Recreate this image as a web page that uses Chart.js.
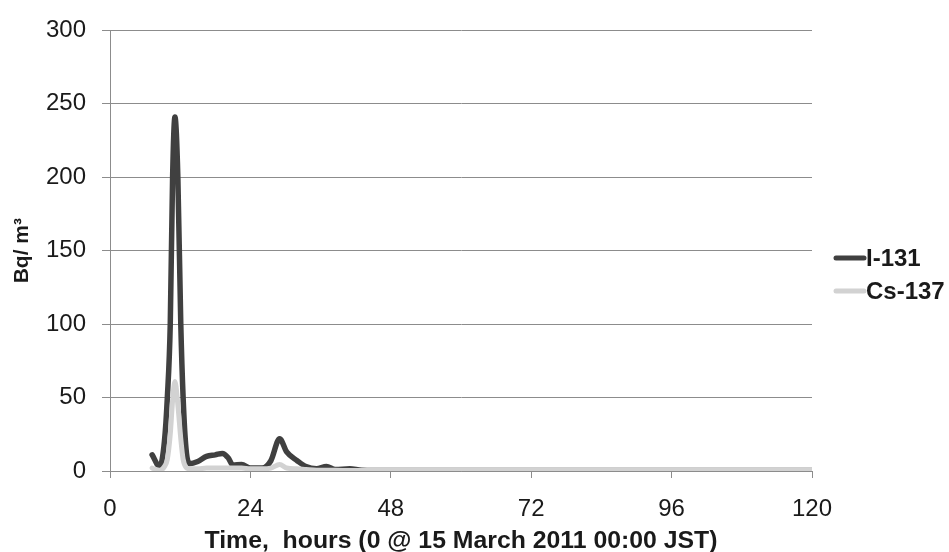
<!DOCTYPE html>
<html>
<head>
<meta charset="utf-8">
<script src="https://cdn.jsdelivr.net/npm/chart.js@4"></script>
<style>
	html, body { margin: 0; padding: 0; background: #fff; }
	#wrap { width: 949px; height: 552px; position: relative; }
</style>
</head>
<body>
<div id="wrap"><canvas id="myChart"></canvas></div>
<script>
// hours after 15 March 2011 00:00 JST
const hours = [7.2, 8.5, 9.3, 9.8, 10.3, 10.7, 11.1, 11.6, 12.1, 12.5, 13.0, 13.6, 15, 16.5, 18, 19.2, 20.2, 21, 22.5, 24, 26, 27.5, 29, 30.2, 32, 33.5, 35.3, 37, 38.5, 41, 43, 48, 72, 96, 120];
const i131 = [11, 3, 20, 50, 100, 200, 241, 200, 100, 50, 15, 5, 6.5, 10, 11, 12, 9, 4, 4.5, 2, 2, 7, 22, 13, 7, 3, 1.5, 3, 1, 1.5, 0.5, 0.3, 0.3, 0.3, 0.3];
const cs137 = [2, 0.5, 3, 8, 25, 48, 61, 45, 22, 8, 2.5, 1.5, 1.5, 2, 2, 2, 2, 2, 2, 1.5, 1.5, 2, 4.5, 2, 1.5, 1, 0.5, 0.5, 0.5, 0.3, 0.3, 0.3, 0.3, 0.3, 0.3];
const seriesNames = ['I-131', 'Cs-137'];
const xTicks = [0, 24, 48, 72, 96, 120];
const yTicks = [0, 50, 100, 150, 200, 250, 300];

const fontFamily = '"Liberation Sans", Arial, sans-serif';
const gridColor = '#8c8c8c';
const textColor = '#1a1a1a';

const toPoints = (vals) => vals.map((v, i) => ({ x: hours[i], y: v }));

// legend on the right, drawn by hand so it sits where the original one does
const sideLegend = {
	id: 'sideLegend',
	afterDraw(chart) {
		const ctx = chart.ctx;
		const rows = [258, 291];
		ctx.save();
		chart.data.datasets.forEach((ds, i) => {
			const y = rows[i];
			ctx.strokeStyle = ds.borderColor;
			ctx.lineWidth = 5;
			ctx.lineCap = 'round';
			ctx.beginPath();
			ctx.moveTo(836, y);
			ctx.lineTo(864, y);
			ctx.stroke();
			ctx.fillStyle = textColor;
			ctx.font = 'bold 24px ' + fontFamily;
			ctx.textBaseline = 'middle';
			ctx.fillText(ds.label, 866, y + 1);
		});
		ctx.restore();
	}
};

const ctx = document.getElementById('myChart');

new Chart(ctx, {
	type: 'line',
	data: {
		datasets: [
			{
				label: seriesNames[0],
				data: toPoints(i131),
				borderColor: '#404040',
				borderWidth: 5.5,
				order: 2,
			},
			{
				label: seriesNames[1],
				data: toPoints(cs137),
				borderColor: '#d2d2d2',
				borderWidth: 5,
				order: 1,
			},
		]
	},
	options: {
		responsive: true,
		maintainAspectRatio: false,
		animation: false,
		devicePixelRatio: 1,
		layout: { padding: { top: 24, right: 137, left: 0, bottom: 0 } },
		elements: {
			point: { radius: 0 },
			line: { tension: 0.4, cubicInterpolationMode: 'monotone', borderCapStyle: 'round', borderJoinStyle: 'round' }
		},
		plugins: {
			legend: { display: false },
			tooltip: { enabled: false },
		},
		scales: {
			x: {
				type: 'linear',
				min: 0,
				max: 120,
				afterBuildTicks: (scale) => { scale.ticks = xTicks.map(v => ({ value: v })); },
				afterFit: (scale) => { scale.height = 81; },
				grid: { drawOnChartArea: false, color: gridColor, tickLength: 7 },
				border: { color: gridColor },
				ticks: { color: textColor, padding: 17, font: { family: fontFamily, size: 24 } },
				title: {
					display: true,
					text: 'Time,  hours (0 @ 15 March 2011 00:00 JST)',
					color: textColor,
					padding: { top: 0, bottom: 0 },
					font: { family: fontFamily, size: 24.8, weight: 'bold', lineHeight: 0.9 }
				}
			},
			y: {
				min: 0,
				max: 300,
				afterBuildTicks: (scale) => { scale.ticks = yTicks.map(v => ({ value: v })); },
				afterFit: (scale) => { scale.width = 110; },
				grid: { color: gridColor, tickLength: 8 },
				border: { color: gridColor },
				ticks: { color: textColor, padding: 16, font: { family: fontFamily, size: 24 } },
				title: {
					display: true,
					text: 'Bq/ m³',
					color: textColor,
					padding: { top: 12, bottom: 0 },
					font: { family: fontFamily, size: 21, weight: 'bold', lineHeight: 1 }
				}
			}
		}
	},
	plugins: [sideLegend]
});
</script>
</body>
</html>
